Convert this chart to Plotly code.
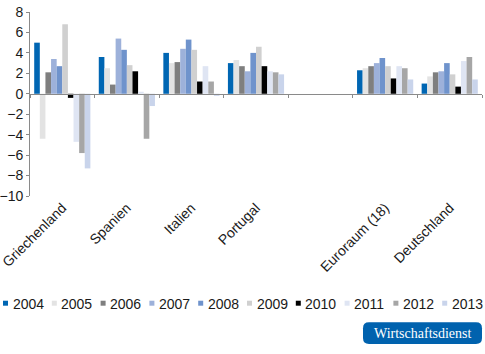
import plotly.graph_objects as go

categories = ["Griechenland", "Spanien", "Italien", "Portugal", " ", "Euroraum (18)", "Deutschland"]
years = ["2004", "2005", "2006", "2007", "2008", "2009", "2010", "2011", "2012", "2013"]

v2004 = [5.0, 3.6, 4.0, 3.0, None, 2.3, 1.0]
v2005 = [-4.4, 2.5, 3.0, 3.3, None, 2.5, 1.7]
v2006 = [2.1, 0.9, 3.1, 2.7, None, 2.7, 2.1]
v2007 = [3.4, 5.4, 4.4, 2.2, None, 3.0, 2.2]
v2008 = [2.7, 4.3, 5.3, 4.0, None, 3.5, 3.0]
v2009 = [6.8, 2.8, 4.3, 4.6, None, 2.7, 1.9]
v2010 = [-0.4, 2.2, 1.2, 2.7, None, 1.5, 0.7]
v2011 = [-4.7, 0.2, 2.7, 2.2, None, 2.7, 3.2]
v2012 = [-5.8, -4.4, 1.2, 2.1, None, 2.5, 3.6]
v2013 = [-7.3, -1.2, -0.2, 1.9, None, 1.4, 1.4]

series = [v2004, v2005, v2006, v2007, v2008, v2009, v2010, v2011, v2012, v2013]
colors = ["#0066B3", "#E3E3E3", "#7F7F7F", "#9DB1DA", "#6F93CC",
          "#D0D0D0", "#000000", "#DFE5F3", "#A6A6A6", "#C9D4EB"]

W, H = 485, 354
ml, mr, mt = 30, 3, 12
plot_w = W - ml - mr
plot_h = 184.5
mb = H - mt - plot_h

def px_x(px):
    return (px - ml) / plot_w

def px_y(py):
    return (mt + plot_h - py) / plot_h

fig = go.Figure()
for yr, vals, col in zip(years, series, colors):
    fig.add_trace(go.Bar(x=categories, y=vals, name=yr, marker_color=col,
                         marker_line_width=0, showlegend=False))

# invisible trace to carry the zero-line axis
fig.add_trace(go.Scatter(x=categories, y=[0] * len(categories), xaxis="x2",
                         mode="markers", marker=dict(opacity=0), hoverinfo="skip",
                         showlegend=False))

font_fam = "Liberation Sans, Arial, sans-serif"
fs = 14
ymin, ymax = -10, 8

fig.update_layout(
    width=W, height=H,
    margin=dict(l=ml, r=mr, t=mt, b=mb, autoexpand=False),
    paper_bgcolor="white", plot_bgcolor="white",
    barmode="group", bargap=0.13, bargroupgap=0,
    font=dict(family=font_fam, size=fs, color="#1a1a1a"),
    xaxis=dict(type="category", categoryorder="array", categoryarray=categories,
               range=[-0.5, len(categories) - 0.5], automargin=False,
               showline=False, ticks="", showgrid=False, zeroline=False,
               tickangle=-45, tickfont=dict(size=fs)),
    xaxis2=dict(type="category", categoryorder="array", categoryarray=categories,
                range=[-0.5, len(categories) - 0.5], overlaying="x",
                anchor="free", position=(0 - ymin) / (ymax - ymin), automargin=False,
                showline=True, linecolor="#8a8a8a", linewidth=1,
                ticks="outside", tickson="boundaries", ticklen=3,
                tickcolor="#8a8a8a", showticklabels=False, showgrid=False),
    yaxis=dict(range=[ymin, ymax], dtick=2, showline=True, linecolor="#8a8a8a",
               linewidth=1, ticks="outside", ticklen=3, tickcolor="#8a8a8a",
               automargin=False,
               showgrid=False, zeroline=False, tickfont=dict(size=fs)),
)

# legend drawn as coloured squares + text
for i, (yr, col) in enumerate(zip(years, colors)):
    x0 = 3 + 48.8 * i
    fig.add_shape(type="rect", xref="paper", yref="paper",
                  x0=px_x(x0), x1=px_x(x0 + 5), y0=px_y(306.5), y1=px_y(301.5),
                  fillcolor=col, line_width=0)
    fig.add_annotation(text=yr, xref="paper", yref="paper",
                       x=px_x(x0 + 7.5), y=px_y(304.3), xanchor="left", yanchor="middle",
                       showarrow=False, font=dict(size=fs, family=font_fam, color="#1a1a1a"))

# logo box
x0, x1, y0, y1 = 363, 482, 323, 345
r = 6
rx, ry = r / plot_w, r / plot_h
X0, X1, Yt, Yb = px_x(x0), px_x(x1), px_y(y0), px_y(y1)
path = (f"M {X0+rx},{Yt} L {X1-rx},{Yt} Q {X1},{Yt} {X1},{Yt-ry} "
        f"L {X1},{Yb+ry} Q {X1},{Yb} {X1-rx},{Yb} L {X0+rx},{Yb} "
        f"Q {X0},{Yb} {X0},{Yb+ry} L {X0},{Yt-ry} Q {X0},{Yt} {X0+rx},{Yt} Z")
fig.add_shape(type="path", path=path, xref="paper", yref="paper",
              fillcolor="#0062AE", line_width=0)
fig.add_annotation(text="Wirtschaftsdienst", xref="paper", yref="paper",
                   x=px_x((x0 + x1) / 2), y=px_y((y0 + y1) / 2),
                   xanchor="center", yanchor="middle", showarrow=False,
                   font=dict(size=14, family="Liberation Serif, serif", color="white"))

fig.write_html("out.html")
